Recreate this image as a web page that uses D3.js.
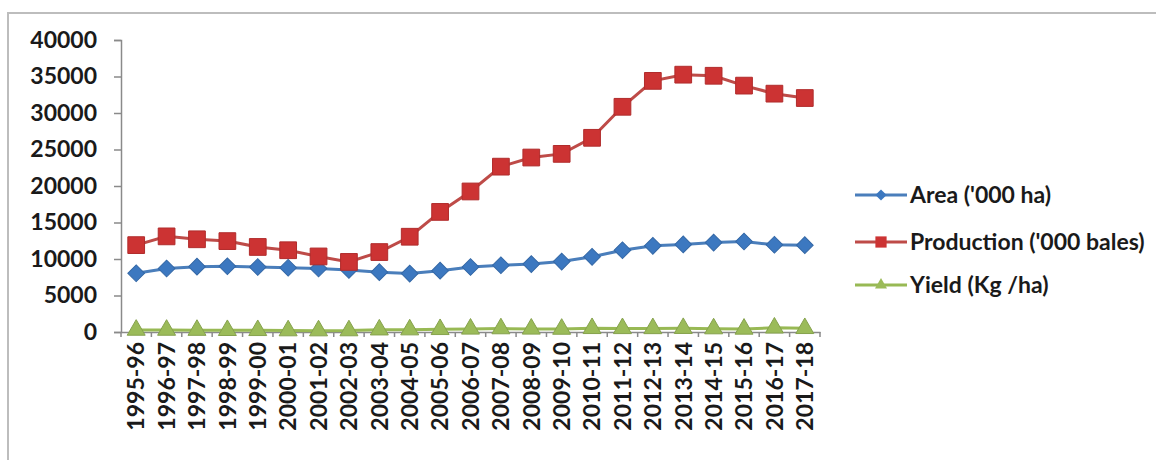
<!DOCTYPE html>
<html><head><meta charset="utf-8">
<script src="https://cdn.jsdelivr.net/npm/d3@7/dist/d3.min.js"></script>
<style>body{margin:0;background:#fff}svg{display:block}text{font-family:Lato,"Open Sans",sans-serif;font-weight:bold;fill:#1a1a1a}</style>
</head><body><svg id="c" width="1156" height="460"></svg>
<script>
const categories = ["1995-96","1996-97","1997-98","1998-99","1999-00","2000-01","2001-02","2002-03","2003-04","2004-05","2005-06","2006-07","2007-08","2008-09","2009-10","2010-11","2011-12","2012-13","2013-14","2014-15","2015-16","2016-17","2017-18"];
const area = [8050,8700,8950,9000,8900,8800,8700,8500,8200,8000,8400,8900,9150,9300,9650,10300,11200,11800,12000,12250,12400,11950,11900];
const production = [11900,13100,12700,12450,11650,11200,10350,9600,10950,13050,16450,19250,22650,23900,24400,26600,30850,34400,35250,35100,33750,32650,32050];
const yieldKg = [270,265,255,230,225,190,186,191,307,318,362,421,467,422,403,499,491,486,510,461,415,568,500];
const yTicks = [0,5000,10000,15000,20000,25000,30000,35000,40000];
const seriesNames = ["Area ('000 ha)","Production ('000 bales)","Yield (Kg /ha)"];

const svg = d3.select("#c");
svg.append("rect").attr("x",8).attr("y",13).attr("width",1160).attr("height",460)
  .attr("fill","#fff").attr("stroke","#bdbdbd").attr("stroke-width",2);

const x = d3.scaleBand().domain(categories).range([121,820]);
const y = d3.scaleLinear().domain([0,40000]).range([332,40]);
const axisCol = "#8a8a8a";
const fs = "23px";

// y axis
const ya = svg.append("g").attr("transform","translate(121,0)")
  .call(d3.axisLeft(y).tickValues(yTicks).tickFormat(d3.format("d")).tickSize(7).tickPadding(17));
ya.select(".domain").attr("stroke",axisCol).attr("stroke-width",1.5);
ya.selectAll(".tick line").attr("stroke",axisCol).attr("stroke-width",1.5);
ya.selectAll("text").style("font-size",fs).attr("fill","#1a1a1a").attr("font-family","Lato").attr("font-weight","bold");

// x axis
const xa = svg.append("g").attr("transform","translate(0,332)")
  .call(d3.axisBottom(x).tickSize(0).tickSizeOuter(0));
xa.select(".domain").attr("stroke",axisCol).attr("stroke-width",1.5);
xa.selectAll(".tick text").attr("transform","rotate(-90)").attr("text-anchor","end")
  .attr("x",-10).attr("y",0).attr("dy","0.36em")
  .style("font-size",fs).attr("fill","#1a1a1a").attr("font-family","Lato").attr("font-weight","bold");
// boundary ticks between categories
svg.append("g").selectAll("line").data(categories.concat(["_end"])).join("line")
  .attr("x1",(d,i)=> i<categories.length ? x(d) : x.range()[1])
  .attr("x2",(d,i)=> i<categories.length ? x(d) : x.range()[1])
  .attr("y1",332).attr("y2",337).attr("stroke",axisCol).attr("stroke-width",1.5);

const cx = d => x(d) + x.bandwidth()/2;
const series = [
  {name:seriesNames[0], values:area, line:"#4a7ebb", fill:"#3c78c0", shape:d3.symbolSquare, size:140, rot:45},
  {name:seriesNames[1], values:production, line:"#be4b48", fill:"#cc3333", shape:d3.symbolSquare, size:280, rot:0},
  {name:seriesNames[2], values:yieldKg, line:"#98b954", fill:"#9bbb59", shape:d3.symbolTriangle, size:140, rot:0}
];
const line = d3.line().x((d,i)=>cx(categories[i])).y(d=>y(d));
series.forEach(s=>{
  svg.append("path").attr("d",line(s.values)).attr("fill","none").attr("stroke",s.line).attr("stroke-width",3);
  svg.append("g").selectAll("path").data(s.values).join("path")
    .attr("d",d3.symbol().type(s.shape).size(s.size))
    .attr("transform",(d,i)=>`translate(${cx(categories[i])},${y(d)}) rotate(${s.rot})`)
    .attr("fill",s.fill).attr("stroke",d3.color(s.fill).darker(0.4)).attr("stroke-width",1);
});

// legend
const lg = svg.append("g");
const ly = [195,242,285];
series.forEach((s,i)=>{
  lg.append("line").attr("x1",855).attr("x2",907).attr("y1",ly[i]).attr("y2",ly[i]).attr("stroke",s.line).attr("stroke-width",3);
  lg.append("path").attr("d",d3.symbol().type(s.shape).size(s.size*0.45)).attr("transform",`translate(881,${ly[i]}) rotate(${s.rot})`).attr("fill",s.fill);
  lg.append("text").attr("x",910).attr("y",ly[i]).attr("dy","0.36em").style("font-size",fs).text(s.name);
});
</script></body></html>
